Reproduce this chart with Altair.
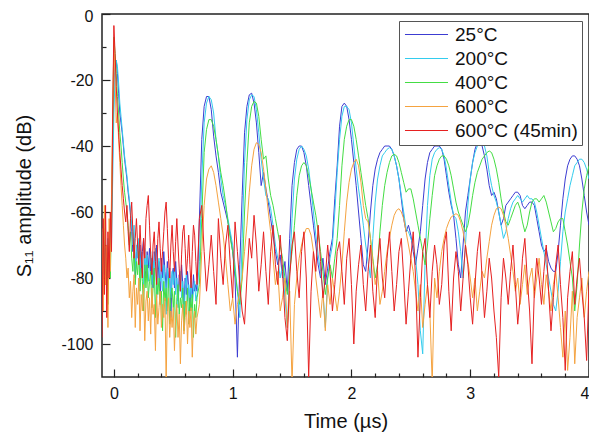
import altair as alt
import pandas as pd

FONT = "Liberation Sans"

# time samples (µs): dense before 0.70, then every 0.02
T_A = [round(-0.10 + 0.01 * i, 2) for i in range(81)]
T_B = [round(0.72 + 0.02 * i, 2) for i in range(165)]
TIME = T_A + T_B

SERIES = ["25°C", "200°C", "400°C", "600°C", "600°C (45min)"]
COLORS = ["#3c3cd2", "#33ccee", "#44dd44", "#f5a340", "#e62020"]

S25 = [
    -72, -80, -68, -76, -84, -70, -78, -66, -60, -42,
    -22, -15, -14, -18, -24, -30, -33, -36, -40, -44,
    -47, -50, -54, -57, -61, -66, -72, -68, -80, -72,
    -69, -75, -70, -78, -72, -68, -75, -80, -72, -77,
    -71, -78, -74, -83, -72, -76, -70, -80, -75, -88,
    -74, -80, -72, -78, -83, -75, -81, -77, -92, -79,
    -77, -83, -75, -81, -87, -79, -84, -76, -82, -88,
    -80, -85, -78, -83, -90, -81, -86, -79, -84, -82,
    -84,
    -62, -38, -28, -25, -25, -29, -37, -43, -48, -54,
    -57, -60, -63, -67, -72, -80, -104, -76, -55, -36,
    -28, -24.5, -24, -27, -33, -42, -52, -48, -53, -57,
    -62, -67, -72, -76, -73, -80, -75, -84, -68, -52,
    -45, -41, -40, -40, -42, -46, -52, -58, -64, -70,
    -76, -80, -74, -82, -77, -72, -68, -56, -46, -34,
    -28, -27, -28, -32, -38, -45, -52, -60, -68, -76,
    -78, -70, -60, -52, -47, -44, -42, -41, -40, -40,
    -40, -41, -43, -46, -50, -56, -62, -66, -64, -67,
    -72, -76, -71, -66, -58, -50, -45, -42, -41, -40,
    -40, -40, -41, -44, -49, -54, -58, -61, -68, -76,
    -80, -70, -60, -55, -50, -45, -41, -39, -39, -40,
    -43, -47, -52, -55, -54, -56, -60, -64, -62, -58,
    -57, -56, -55, -54, -54, -55, -58, -59, -58, -57,
    -57, -58, -62, -66, -70, -72, -71, -75, -77, -78,
    -78, -72, -64, -56, -50, -46, -44, -43, -43, -44,
    -46, -50, -55, -60, -64,
]

S200 = [
    -74, -66, -79, -71, -82, -68, -75, -64, -70, -50,
    -30, -18, -14, -16, -21, -27, -31, -35, -39, -43,
    -46, -49, -53, -56, -60, -64, -70, -64, -78, -70,
    -74, -68, -80, -72, -76, -84, -71, -78, -73, -81,
    -76, -72, -82, -75, -79, -71, -86, -77, -74, -81,
    -79, -84, -76, -81, -91, -77, -83, -80, -86, -78,
    -82, -77, -85, -80, -89, -82, -78, -86, -81, -95,
    -83, -79, -87, -82, -86, -80, -89, -84, -81, -87,
    -85,
    -75, -50, -33, -27, -25, -26, -30, -38, -43, -50,
    -55, -58, -62, -66, -70, -76, -84, -92, -68, -45,
    -32, -26, -24.5, -25, -29, -36, -44, -50, -55, -56,
    -59, -64, -70, -74, -80, -76, -86, -95, -78, -62,
    -50, -44, -41, -40, -41, -43, -47, -53, -60, -67,
    -73, -78, -84, -95, -80, -74, -70, -60, -48, -38,
    -31, -28, -28, -29, -33, -40, -47, -53, -58, -64,
    -70, -75, -80, -68, -57, -50, -46, -43, -42, -41,
    -40.5, -41, -43, -46, -50, -55, -60, -65, -66, -68,
    -70, -74, -82, -96, -103, -75, -58, -49, -44, -42,
    -41, -40.5, -41, -43, -47, -52, -57, -61, -62, -66,
    -72, -80, -70, -58, -50, -45, -42, -40, -39, -39,
    -40, -43, -48, -52, -55, -57, -60, -64, -68, -66,
    -62, -59, -57, -56, -55, -56, -57, -56, -55, -56,
    -56, -57, -60, -64, -68, -72, -76, -80, -84, -88,
    -90, -84, -75, -66, -60, -56, -52, -49, -46, -45,
    -44, -44, -45, -47, -50,
]

S400 = [
    -70, -78, -65, -82, -74, -88, -72, -80, -62, -35,
    -7, -12, -18, -25, -30, -36, -40, -45, -50, -54,
    -57, -60, -64, -70, -66, -74, -78, -70, -82, -75,
    -79, -72, -84, -77, -81, -90, -76, -83, -76, -86,
    -81, -78, -89, -83, -77, -92, -80, -85, -80, -88,
    -84, -96, -81, -87, -83, -90, -80, -94, -85, -83,
    -89, -84, -98, -86, -82, -91, -86, -89, -83, -96,
    -87, -91, -83, -94, -86, -90, -85, -98, -88, -92,
    -86,
    -82, -62, -42, -35, -32, -32, -34, -38, -43, -48,
    -52, -57, -63, -68, -72, -78, -84, -88, -80, -60,
    -45, -33, -28, -26.5, -27, -31, -38, -44, -43, -50,
    -55, -58, -62, -66, -70, -74, -80, -85, -78, -72,
    -64, -55, -49, -46, -45, -46, -49, -53, -57, -61,
    -66, -72, -78, -85, -80, -76, -80, -74, -68, -58,
    -46, -38, -34, -32, -32, -34, -38, -43, -48, -53,
    -58, -62, -68, -74, -80, -76, -66, -58, -52, -48,
    -45, -43, -42.5, -43, -45, -48, -51, -54, -53, -53,
    -56, -60, -64, -68, -72, -76, -70, -62, -55, -49,
    -46, -44, -43, -43, -44, -46, -49, -53, -57, -60,
    -62, -64, -66, -64, -60, -55, -51, -48, -46, -44,
    -43, -42, -41.5, -42, -44, -47, -51, -56, -60, -63,
    -64, -62, -60, -58, -57, -59, -63, -66, -64, -60,
    -57, -56, -56, -57, -56, -55, -57, -60, -63, -66,
    -65, -63, -62, -62, -66, -70, -75, -80, -90, -82,
    -70, -60, -53, -49, -46,
]

S600 = [
    -65, -90, -58, -82, -70, -95, -62, -78, -55, -30,
    -8, -20, -33, -30, -38, -45, -52, -58, -64, -70,
    -74, -80, -77, -86, -81, -92, -84, -79, -95, -83,
    -88, -80, -96, -85, -90, -82, -99, -87, -84, -93,
    -86, -97, -83, -91, -88, -102, -85, -94, -89, -84,
    -95, -88, -92, -86, -112, -90, -86, -98, -90, -95,
    -89, -102, -92, -88, -98, -91, -106, -93, -88, -97,
    -92, -87, -100, -90, -95, -89, -104, -93, -90, -97,
    -92,
    -88, -72, -58, -50, -47, -46, -48, -52, -57, -62,
    -67, -74, -82, -90, -86, -94, -88, -84, -80, -72,
    -64, -54, -46, -41, -39, -39.5, -42, -47, -53, -60,
    -66, -74, -82, -78, -90, -86, -80, -95, -84, -112,
    -88, -80, -74, -70, -67, -65, -65, -67, -72, -80,
    -86, -92, -84, -96, -82, -88, -80, -85, -90, -84,
    -76, -66, -57, -51, -47, -45, -44, -46, -51, -58,
    -62, -63, -68, -75, -82, -78, -88, -84, -78, -72,
    -68, -64, -61, -59.5, -59, -60, -62, -66, -70, -74,
    -78, -84, -90, -82, -95, -88, -82, -90, -112, -80,
    -86, -78, -72, -68, -65, -63, -61.5, -61, -60.5, -61,
    -63, -66, -70, -75, -80, -86, -80, -90, -84, -78,
    -80, -74, -69, -64, -61, -59, -58.5, -59, -61, -64,
    -68, -73, -78, -84, -80, -88, -82, -76, -85, -80,
    -77, -86, -80, -74, -82, -88, -79, -84, -90, -82,
    -78, -86, -95, -104, -90, -108, -98, -84, -106, -92,
    -86, -80, -92, -84, -78,
]

S600_45 = [
    -98, -62, -85, -58, -92, -66, -80, -60, -72, -30,
    -3.5, -12, -22, -30, -36, -42, -47, -52, -56, -60,
    -63, -58, -66, -72, -62, -57, -66, -74, -68, -62,
    -70, -76, -64, -72, -80, -68, -74, -62, -58, -55,
    -64, -73, -79, -70, -66, -75, -82, -68, -63, -71,
    -78, -72, -66, -60, -57, -65, -74, -80, -70, -64,
    -72, -78, -69, -62, -70, -77, -84, -73, -66, -64,
    -71, -79, -74, -67, -76, -83, -72, -64, -67, -75,
    -82,
    -62, -58, -72, -84, -76, -67, -78, -88, -62, -74,
    -82, -70, -64, -76, -86, -63, -72, -82, -90, -94,
    -80, -68, -74, -61, -70, -84, -76, -66, -78, -88,
    -72, -64, -76, -82, -67, -78, -92, -99, -80, -70,
    -66, -78, -86, -72, -66, -80, -110, -84, -72, -78,
    -64, -75, -86, -80, -70, -78, -90, -82, -72, -69,
    -78, -88, -74, -68, -82, -100, -84, -76, -70, -82,
    -90, -78, -70, -84, -92, -76, -68, -80, -86, -74,
    -66, -78, -90, -82, -72, -68, -80, -94, -84, -74,
    -66, -80, -104, -86, -72, -68, -82, -92, -78, -70,
    -76, -88, -82, -70, -66, -84, -96, -80, -72, -78,
    -90, -80, -70, -76, -86, -94, -82, -72, -66, -80,
    -92, -84, -74, -80, -90, -98, -110, -86, -74, -80,
    -88, -78, -70, -82, -94, -86, -74, -68, -80, -90,
    -106, -84, -74, -80, -88, -78, -70, -84, -96, -86,
    -76, -70, -82, -92, -108, -86, -78, -72, -88, -80,
    -74, -84, -92, -105, -82,
]

X_MAJOR = [0, 1, 2, 3, 4]
X_MINOR = [0.2, 0.4, 0.6, 0.8, 1.2, 1.4, 1.6, 1.8, 2.2, 2.4, 2.6, 2.8,
           3.2, 3.4, 3.6, 3.8]
Y_MAJOR = [-100, -80, -60, -40, -20, 0]
Y_MINOR = [-90, -70, -50, -30, -10]

rows = []
for name, vals in zip(SERIES, [S25, S200, S400, S600, S600_45]):
    assert len(vals) == len(TIME), (name, len(vals))
    for t, v in zip(TIME, vals):
        rows.append({"t": t, "v": v, "series": name})
df = pd.DataFrame(rows)

xscale = alt.Scale(domain=[-0.1, 4], nice=False, zero=False)
yscale = alt.Scale(domain=[-110, 0], nice=False, zero=False)

lines = alt.Chart(df).mark_line(strokeWidth=1, clip=True).encode(
    x=alt.X("t:Q", scale=xscale, axis=alt.Axis(
        values=X_MAJOR, title="Time (µs)", orient="bottom", grid=False,
        domain=False, tickSize={"expr": "-8"}, tickWidth=1.2, tickColor="#222",
        labelPadding=16, labelFlush=True, labelFontSize=16,
        titleFontSize=20, titlePadding=10)),
    y=alt.Y("v:Q", scale=yscale, axis=alt.Axis(
        values=Y_MAJOR, title="S₁₁ amplitude (dB)", orient="left", grid=False,
        domain=False, tickSize={"expr": "-8"}, tickWidth=1.2, tickColor="#222",
        labelPadding=17, labelFlush=False, labelFontSize=16,
        labelOffset={"condition": {"test": "datum.value === 0", "value": 2},
                     "value": 0},
        labelExpr="datum.value < 0 ? '-' + abs(datum.value) : '' + datum.value",
        titleFontSize=20, titlePadding=26)),
    color=alt.Color("series:N", scale=alt.Scale(domain=SERIES, range=COLORS),
                    legend=alt.Legend(
                        title=None, orient="none", legendX=297, legendY=7,
                        symbolType="M-0.94,0H4.44", symbolSize=256,
                        symbolStrokeWidth=1, labelFontSize=19,
                        labelOffset=33, rowPadding=4, padding=4,
                        strokeColor="#555", fillColor="white",
                        direction="vertical")),
)

minor = alt.Chart(df).mark_point(opacity=0).encode(
    x=alt.X("t:Q", scale=xscale, axis=alt.Axis(
        values=X_MINOR, title=None, orient="bottom", grid=False, domain=False,
        labels=False, tickSize={"expr": "-4"}, tickWidth=1.2, tickColor="#222")),
    y=alt.Y("v:Q", scale=yscale, axis=alt.Axis(
        values=Y_MINOR, title=None, orient="left", grid=False, domain=False,
        labels=False, tickSize={"expr": "-4"}, tickWidth=1.2, tickColor="#222")),
)

chart = alt.layer(lines, minor).resolve_axis(
    x="independent", y="independent"
).properties(
    width=487, height=363,
    autosize=alt.AutoSizeParams(type="none"),
    padding={"left": 94, "top": 6, "right": 0, "bottom": 56},
).configure_view(
    stroke="#222", strokeWidth=1.5
).configure_axis(
    labelFont=FONT, titleFont=FONT, labelColor="#111", titleColor="#111",
    titleFontWeight="normal"
).configure_legend(
    labelFont=FONT, labelColor="#111"
)

chart.save("out.html", embed_options={"renderer": "svg", "actions": False})
